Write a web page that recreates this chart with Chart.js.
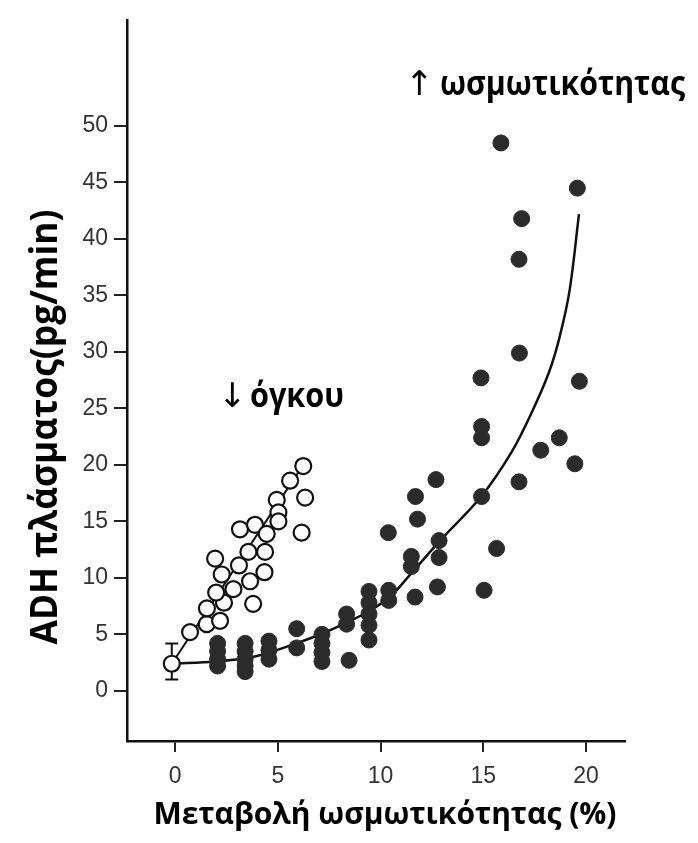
<!DOCTYPE html>
<html>
<head>
<meta charset="utf-8">
<script src="https://cdn.jsdelivr.net/npm/chart.js@4.4.1/dist/chart.umd.min.js"></script>
<style>
  html, body { margin: 0; padding: 0; background: #fff; }
  #wrap { width: 698px; height: 843px; position: relative; }
</style>
</head>
<body>
<div id="wrap"><canvas id="adhChart"></canvas></div>
<script>
// axis ticks
const xTicks = [0, 5, 10, 15, 20];
const yTicks = [0, 5, 10, 15, 20, 25, 30, 35, 40, 45, 50];

// texts
const xTitle = 'Μεταβολή ωσμωτικότητας (%)';
const yTitle = 'ADH πλάσματος(pg/min)';
const osmoLabel = 'ωσμωτικότητας';
const volLabel = 'όγκου';

// open circles: volume decrease
const volX = [-0.16, 0.73, 1.54, 2.19, 1.55, 2.38, 2.0, 2.84, 2.27, 3.65, 3.8, 4.35, 1.95,
  3.11, 3.57, 4.38, 3.16, 3.89, 4.46, 4.95, 5.03, 5.03, 5.6, 6.24, 6.33, 6.16];
const volY = [2.4, 5.2, 5.9, 6.2, 7.3, 7.8, 8.7, 9.0, 10.3, 9.7, 7.7, 10.5, 11.7,
  11.1, 12.3, 12.3, 14.3, 14.7, 13.9, 16.9, 15.8, 15.0, 18.6, 19.9, 17.1, 14.0];

// regression line through open circles
const volLineX = [-0.16, 6.24];
const volLineY = [2.4, 20.0];

// error bar of the baseline point
const errX = [-0.16, -0.16];
const errY = [1.0, 4.2];

// filled dots: osmolality increase
const osmoX = [2.07, 2.07, 2.07, 2.07, 3.41, 3.41, 3.41, 3.41, 3.41, 4.57, 4.57, 4.57,
  5.92, 5.92, 7.15, 7.15, 7.15, 7.15, 8.47, 8.35, 8.35,
  9.44, 9.44, 9.44, 9.44, 9.44, 10.4, 10.4, 10.38,
  11.5, 11.5, 11.68, 11.8, 11.7, 12.77, 12.85, 12.85, 12.7,
  15.04, 14.92, 15.65, 14.92, 14.92, 14.89, 16.74, 17.8, 18.7, 19.46,
  15.86, 19.58, 16.87, 16.74, 16.76, 19.68];
const osmoY = [4.2, 3.5, 2.8, 2.2, 4.2, 3.5, 2.8, 2.2, 1.7, 4.4, 3.6, 2.8,
  5.5, 3.8, 5.0, 4.2, 3.4, 2.6, 2.7, 6.8, 5.9,
  8.8, 7.8, 6.8, 5.8, 4.5, 8.9, 8.0, 14.0,
  11.9, 11.0, 8.3, 15.2, 17.2, 9.2, 13.3, 11.8, 18.7,
  8.9, 17.2, 12.6, 23.4, 22.4, 27.7, 18.5, 21.3, 22.4, 20.1,
  48.5, 44.5, 41.8, 38.2, 29.9, 27.4];

// fitted curve through filled dots
const curveX = [-0.16, 2.0, 3.5, 4.6, 5.9, 7.2, 8.4, 9.4, 10.5, 11.4, 12.9, 14.9,
  16.4, 17.4, 18.2, 18.7, 19.2, 19.66];
const curveY = [2.4, 2.6, 2.9, 3.4, 4.2, 5.1, 6.1, 7.0, 8.4, 10.2, 13.3, 17.2,
  21.2, 24.8, 28.2, 31.2, 35.4, 42.2];

const pts = (xs, ys) => xs.map((x, i) => ({ x: x, y: ys[i] }));

const textPlugin = {
  id: 'texts',
  afterDraw(chart) {
    const ctx = chart.ctx;
    ctx.save();
    ctx.fillStyle = '#000';
    ctx.textBaseline = 'alphabetic';

    // x title
    ctx.font = 'bold 30px "Open Sans"';
    ctx.textAlign = 'center';
    ctx.fillText(xTitle, 385, 824, 474);

    // y title
    ctx.save();
    ctx.translate(57, 427);
    ctx.rotate(-Math.PI / 2);
    ctx.font = 'bold 38px "Open Sans"';
    ctx.fillText(yTitle, 0, 0, 435);
    ctx.restore();

    // annotations
    ctx.textAlign = 'left';
    ctx.font = 'bold 34px "Open Sans"';
    ctx.fillText(osmoLabel, 440, 95, 245);
    ctx.fillText(volLabel, 250, 407, 94);
    ctx.font = '34px "DejaVu Sans"';
    ctx.fillText('\u2191', 405, 95);
    ctx.fillText('\u2193', 218, 407);
    ctx.restore();
  }
};

new Chart(document.getElementById('adhChart'), {
  type: 'scatter',
  data: {
    datasets: [
      {
        data: pts(osmoX, osmoY),
        order: 1,
        pointRadius: 8,
        pointBackgroundColor: '#2b2b2b',
        pointBorderColor: '#2b2b2b',
        pointBorderWidth: 1
      },
      {
        data: pts(volX, volY),
        order: 2,
        pointRadius: 8,
        pointBackgroundColor: '#fff',
        pointBorderColor: '#111',
        pointBorderWidth: 2.2
      },
      {
        data: pts(errX, errY),
        order: 3,
        showLine: true,
        borderColor: '#111',
        borderWidth: 2,
        pointStyle: 'line',
        pointRadius: 6.5,
        pointBorderColor: '#111',
        pointBorderWidth: 2
      },
      {
        data: pts(volLineX, volLineY),
        order: 4,
        showLine: true,
        borderColor: '#111',
        borderWidth: 2,
        pointRadius: 0
      },
      {
        data: pts(curveX, curveY),
        order: 5,
        showLine: true,
        borderColor: '#111',
        borderWidth: 2.5,
        pointRadius: 0,
        tension: 0.35
      }
    ]
  },
  options: {
    responsive: true,
    maintainAspectRatio: false,
    animation: false,
    layout: { padding: { top: 8, right: 73, left: 0, bottom: 0 } },
    plugins: { legend: { display: false }, tooltip: { enabled: false } },
    scales: {
      x: {
        type: 'linear',
        min: -2.34,
        max: 21.9,
        afterBuildTicks: (s) => { s.ticks = xTicks.map(v => ({ value: v })); },
        afterFit: (s) => { s.height = 102; },
        border: { display: true, color: '#111', width: 2.5 },
        grid: { drawOnChartArea: false, drawTicks: true, tickLength: 11, color: '#222', lineWidth: 2 },
        ticks: { padding: 11, color: '#333', font: { family: 'Liberation Sans', size: 23 } }
      },
      y: {
        type: 'linear',
        min: -4.44,
        max: 59.4,
        afterBuildTicks: (s) => { s.ticks = yTicks.map(v => ({ value: v })); },
        afterFit: (s) => { s.width = 127; },
        border: { display: true, color: '#111', width: 2.5 },
        grid: { drawOnChartArea: false, drawTicks: true, tickLength: 13, color: '#222', lineWidth: 2 },
        ticks: { padding: 6, color: '#333', font: { family: 'Liberation Sans', size: 23 } }
      }
    }
  },
  plugins: [textPlugin]
});
</script>
</body>
</html>
